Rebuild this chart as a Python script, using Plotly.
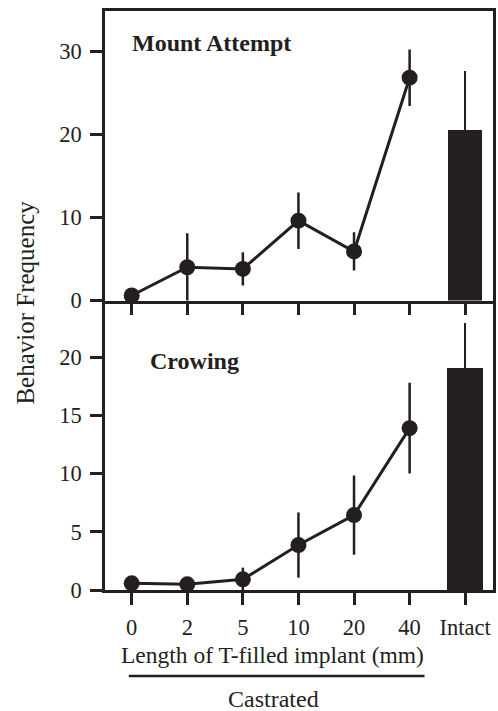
import plotly.graph_objects as go

categories = ["0", "2", "5", "10", "20", "40", "Intact"]
castrated_groups = categories[:6]

mount_means = [0.6, 4.0, 3.8, 9.6, 5.9, 26.8]
mount_err = [0, 4.1, 2.0, 3.4, 2.3, 3.4]
mount_intact = 20.5
mount_intact_err = 7.1

crow_means = [0.57, 0.49, 0.92, 3.86, 6.43, 13.9]
crow_err = [0, 0, 1.0, 2.8, 3.4, 3.9]
crow_intact = 19.1
crow_intact_err = 3.8

top_ticks = [0, 10, 20, 30]
bottom_ticks = [0, 5, 10, 15, 20]

INK = "#231f20"
FONT = "Liberation Serif"

xpos = list(range(len(castrated_groups)))
xbar = [len(castrated_groups)]

fig = go.Figure()

# top panel: Mount Attempt
fig.add_trace(go.Scatter(
    x=xpos, y=mount_means, mode="lines+markers",
    line=dict(color=INK, width=3), marker=dict(color=INK, size=16),
    error_y=dict(type="data", array=mount_err, color=INK, thickness=2.5, width=0),
    cliponaxis=False, xaxis="x2", yaxis="y2", showlegend=False))
fig.add_trace(go.Bar(
    x=xbar, y=[mount_intact], width=0.62, marker=dict(color=INK, line=dict(width=0)),
    error_y=dict(type="data", array=[mount_intact_err], arrayminus=[0], color=INK, thickness=2.5, width=0),
    xaxis="x2", yaxis="y2", showlegend=False))

# bottom panel: Crowing
fig.add_trace(go.Scatter(
    x=xpos, y=crow_means, mode="lines+markers",
    line=dict(color=INK, width=3), marker=dict(color=INK, size=16),
    error_y=dict(type="data", array=crow_err, color=INK, thickness=2.5, width=0),
    cliponaxis=False, xaxis="x", yaxis="y", showlegend=False))
fig.add_trace(go.Bar(
    x=xbar, y=[crow_intact], width=0.65, marker=dict(color=INK, line=dict(width=0)),
    error_y=dict(type="data", array=[crow_intact_err], arrayminus=[0], color=INK, thickness=2.5, width=0),
    xaxis="x", yaxis="y", showlegend=False))

axis_common = dict(showline=True, linecolor=INK, linewidth=2.5,
                   ticks="outside", ticklen=12, tickwidth=2.5, tickcolor=INK,
                   showgrid=False, zeroline=False,
                   tickfont=dict(family=FONT, size=22.5, color=INK))

fig.update_layout(
    width=498, height=711,
    margin=dict(l=105, r=2, t=11, b=121),
    paper_bgcolor="white", plot_bgcolor="white",
    font=dict(family=FONT, color=INK),
    bargap=0,
    xaxis=dict(**axis_common, anchor="y", domain=[0, 1], range=[-0.48, 6.5], mirror=False,
               tickmode="array", tickvals=list(range(len(categories))), ticktext=categories,
               ticklabelstandoff=3),
    xaxis2=dict(**axis_common, anchor="y2", domain=[0, 1], range=[-0.48, 6.5], mirror=True,
                tickmode="array", tickvals=list(range(len(categories))), showticklabels=False),
    yaxis=dict(**axis_common, anchor="x", domain=[0, 0.5], range=[0, 24.86], mirror=True,
               tickmode="array", tickvals=bottom_ticks, ticklabelstandoff=4),
    yaxis2=dict(**axis_common, anchor="x2", domain=[0.5, 1], range=[0, 34.82], mirror=True,
                tickmode="array", tickvals=top_ticks, ticklabelstandoff=4),
)

fig.add_annotation(text="<b>Mount Attempt</b>", xref="paper", yref="paper",
                   x=0.064, y=0.9447, xanchor="left", yanchor="middle", showarrow=False,
                   font=dict(family=FONT, size=24, color=INK))
fig.add_annotation(text="<b>Crowing</b>", xref="paper", yref="paper",
                   x=0.110, y=0.3955, xanchor="left", yanchor="middle", showarrow=False,
                   font=dict(family=FONT, size=24, color=INK))
fig.add_annotation(text="Behavior Frequency", xref="paper", yref="paper",
                   x=-0.2046, y=0.4957, xanchor="center", yanchor="middle", showarrow=False,
                   textangle=-90, font=dict(family=FONT, size=25, color=INK))
fig.add_annotation(text="Length of T-filled implant (mm)", xref="paper", yref="paper",
                   x=0.432, y=-0.1123, xanchor="center", yanchor="middle", showarrow=False,
                   font=dict(family=FONT, size=23.5, color=INK))
fig.add_annotation(text="Castrated", xref="paper", yref="paper",
                   x=0.4348, y=-0.1883, xanchor="center", yanchor="middle", showarrow=False,
                   font=dict(family=FONT, size=24, color=INK))
fig.add_shape(type="line", xref="paper", yref="paper", x0=0.0614, x1=0.8235,
              y0=-0.1485, y1=-0.1485, line=dict(color=INK, width=2.5))

fig.write_html("out.html", config={"displayModeBar": False},
               post_script="document.body.style.margin='0';document.body.style.overflow='hidden';")
